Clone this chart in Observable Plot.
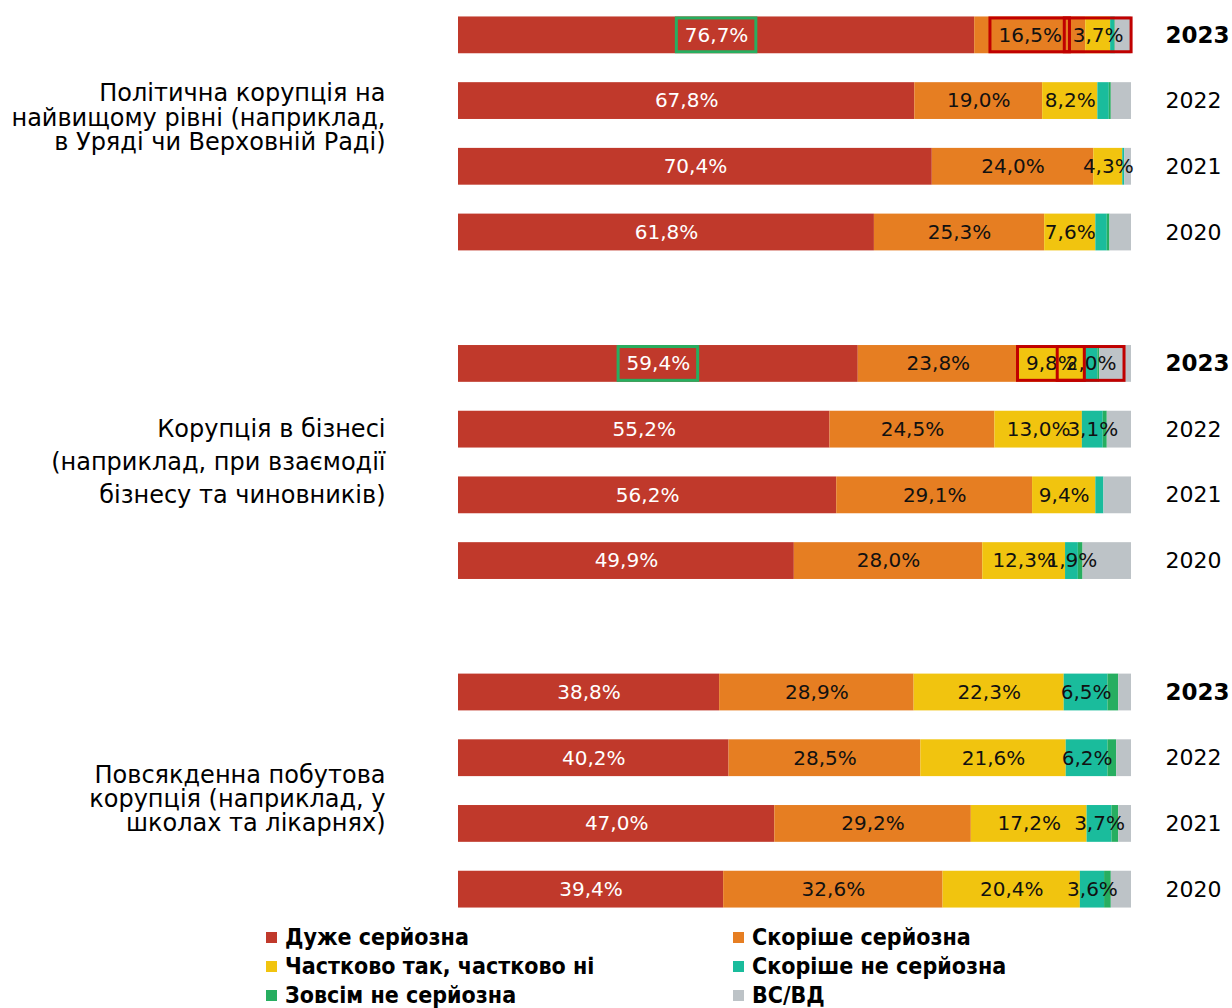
<!DOCTYPE html>
<html>
<head>
<meta charset="utf-8">
<script src="https://cdn.jsdelivr.net/npm/d3@7"></script>
<script src="https://cdn.jsdelivr.net/npm/@observablehq/plot@0.6"></script>
<style>
  html, body { margin: 0; padding: 0; background: #fff; overflow: hidden; }
  #wrap { position: relative; width: 1232px; height: 1008px; }
  #legend { position: absolute; left: 266px; top: 924px; display: grid; grid-template-columns: 467px 400px; row-gap: 3px;
    font-family: "DejaVu Sans Condensed", "DejaVu Sans", sans-serif; font-weight: bold; font-size: 23px; color: #000; }
  #legend .item { display: flex; align-items: center; height: 26px; white-space: nowrap; }
  #legend .sw { width: 11px; height: 11px; margin-right: 8px; flex: none; }
</style>
</head>
<body>
<div id="wrap"><div id="chart"></div><div id="legend"></div></div>
<script>
const groups = [
  "Політична корупція на\nнайвищому рівні (наприклад,\nв Уряді чи Верховній Раді)",
  "Корупція в бізнесі\n(наприклад, при взаємодії\nбізнесу та чиновників)",
  "Повсякденна побутова\nкорупція (наприклад, у\nшколах та лікарнях)"
];
const years = ["2023", "2022", "2021", "2020"];
const categories = ["Дуже серйозна", "Скоріше серйозна", "Частково так, частково ні", "Скоріше не серйозна", "Зовсім не серйозна", "ВС/ВД"];
const colors = ["#C0392B", "#E67E22", "#F1C40F", "#1ABC9C", "#27AE60", "#BDC3C7"];

// values per row: group 0 (2023..2020), group 1 (2023..2020), group 2 (2023..2020)
const verySerious = [76.7, 67.8, 70.4, 61.8, 59.4, 55.2, 56.2, 49.9, 38.8, 40.2, 47.0, 39.4];
const ratherSerious = [16.5, 19.0, 24.0, 25.3, 23.8, 24.5, 29.1, 28.0, 28.9, 28.5, 29.2, 32.6];
const partly = [3.7, 8.2, 4.3, 7.6, 9.8, 13.0, 9.4, 12.3, 22.3, 21.6, 17.2, 20.4];
const ratherNot = [0.6, 1.7, 0.3, 1.7, 2.0, 3.1, 1.2, 1.9, 6.5, 6.2, 3.7, 3.6];
const notAtAll = [0.1, 0.3, 0.0, 0.4, 0.3, 0.6, 0.0, 0.7, 1.6, 1.3, 1.0, 1.0];
const dontKnow = [2.4, 3.0, 1.0, 3.2, 4.7, 3.6, 4.1, 7.2, 1.9, 2.2, 1.9, 3.0];

// highlighted labels: [group, year, category index, box colour]
const highlights = [
  [0, "2023", 0, "#27AE60"], [0, "2023", 1, "#C00000"], [0, "2023", 2, "#C00000"],
  [1, "2023", 0, "#27AE60"], [1, "2023", 2, "#C00000"], [1, "2023", 3, "#C00000"]
];

const series = [verySerious, ratherSerious, partly, ratherNot, notAtAll, dontKnow];
const rowKey = (g, y) => `${g}-${y}`;
const domain = [];
groups.forEach((g, gi) => {
  years.forEach(y => domain.push(rowKey(gi, y)));
  if (gi < groups.length - 1) domain.push(`gap${gi}`);
});

const segs = [];
groups.forEach((g, gi) => {
  years.forEach((yr, yi) => {
    const r = gi * 4 + yi;
    let acc = 0;
    series.forEach((s, ci) => {
      const v = s[r];
      segs.push({row: rowKey(gi, yr), g: gi, year: yr, ci, cat: categories[ci], value: v, x1: acc, x2: acc + v, mid: acc + v / 2});
      acc += v;
    });
  });
});
const fmt = v => v.toFixed(1).replace(".", ",") + "%";
const labels = segs.filter(d => d.ci <= 3 && d.value >= 1.9);

const pxPerPct = (1131 - 458) / 100;
const textW = s => [...s].reduce((a, c) => a + (c === "%" ? 0.95 : c === "," ? 0.318 : 0.636), 0) * 20;
const boxes = highlights.map(([g, y, ci, color]) => {
  const d = segs.find(s => s.g === g && s.year === y && s.ci === ci);
  const half = (textW(fmt(d.value)) / 2 + 8) / pxPerPct;
  return {row: d.row, x1: d.mid - half, x2: d.mid + half, color};
});

const yearRows = [];
groups.forEach((g, gi) => years.forEach(y => yearRows.push({row: rowKey(gi, y), year: y})));

const groupLabels = groups.map((g, gi) => ({row: rowKey(gi, "2022"), text: g}));
const groupDy = [17, 30, 41];
const groupLH = [1.02, 1.38, 1.0];

const chart = Plot.plot({
  width: 1232,
  height: 922,
  marginTop: 2,
  marginBottom: 0,
  marginLeft: 458,
  marginRight: 101,
  style: {fontFamily: "DejaVu Sans, sans-serif", fontSize: "20px", background: "#fff"},
  x: {domain: [0, 100], axis: null},
  y: {type: "band", domain, paddingInner: 0.44, paddingOuter: 0.22, round: false, axis: null},
  color: {domain: categories, range: colors},
  marks: [
    Plot.barX(segs, {x1: "x1", x2: "x2", y: "row", fill: "cat"}),
    Plot.text(labels, {x: "mid", y: "row", text: d => fmt(d.value), fill: d => d.ci === 0 ? "#fff" : "#111", fontSize: 20}),
    Plot.barX(boxes, {x1: "x1", x2: "x2", y: "row", fill: "none", stroke: "color", strokeWidth: 3, insetTop: 1.5, insetBottom: 1.5}),
    Plot.text(yearRows.filter(d => d.year === "2023"), {y: "row", text: "year", frameAnchor: "right", dx: 34, textAnchor: "start", fontWeight: "bold", fontSize: 23, fill: "#000"}),
    Plot.text(yearRows.filter(d => d.year !== "2023"), {y: "row", text: "year", frameAnchor: "right", dx: 34, textAnchor: "start", fontSize: 22, fill: "#000"}),
    ...groupLabels.map((d, i) => Plot.text([d], {y: "row", text: "text", frameAnchor: "left", dx: -73, dy: groupDy[i], textAnchor: "end", lineHeight: groupLH[i], fontSize: 24, fill: "#000"}))
  ]
});
document.getElementById("chart").appendChild(chart);

const legend = document.getElementById("legend");
categories.forEach((c, i) => {
  const it = document.createElement("div");
  it.className = "item";
  it.innerHTML = `<span class="sw" style="background:${colors[i]}"></span><span>${c}</span>`;
  legend.appendChild(it);
});
</script>
</body>
</html>
